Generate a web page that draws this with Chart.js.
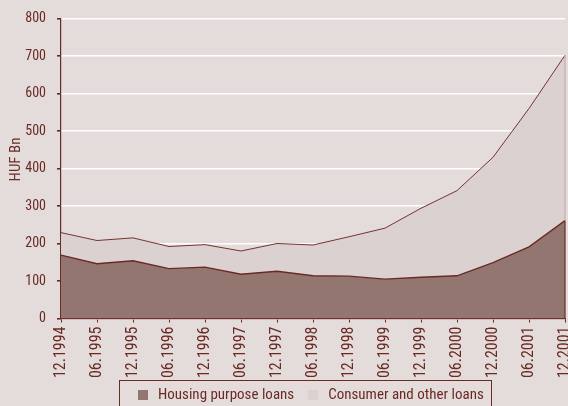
<!DOCTYPE html>
<html><head><meta charset="utf-8">
<script src="https://cdn.jsdelivr.net/npm/chart.js@4/dist/chart.umd.min.js"></script>
<style>
html,body{margin:0;padding:0;background:#e4dcdb;overflow:hidden;}
#wrap{width:568px;height:406px;position:relative;}
</style>
</head><body>
<div id="wrap"><canvas id="c" width="568" height="406"></canvas></div>
<script>
const categories = ['12.1994','06.1995','12.1995','06.1996','12.1996','06.1997','12.1997','06.1998','12.1998','06.1999','12.1999','06.2000','12.2000','06.2001','12.2001'];
const housingLoans = [169,146,154,133,137,118,126,114,113,105,110,114,149,191,261];
const consumerLoans = [60,62,61,59,60,62,74,82,105,136,184,227,281,369,441];
const seriesNames = ['Housing purpose loans','Consumer and other loans'];
const yAxisTitle = 'HUF Bn';
const yMin = 0, yMax = 800, yStep = 100;

const FONT = "'Liberation Sans Narrow','Arial Narrow','Roboto Condensed',sans-serif";
const DARK = '#6a2a24';
const BG = '#e4dcdb';
const HOUSING_FILL = '#937670';
const CONSUMER_FILL = '#dbd1d1';

const bgPlugin = {
  id: 'bg',
  beforeDraw(chart) {
    const ctx = chart.ctx;
    ctx.save();
    ctx.fillStyle = BG;
    ctx.fillRect(0, 0, chart.width, chart.height);
    ctx.restore();
  }
};

const edgePlugin = {
  id: 'edge',
  afterDatasetsDraw(chart) {
    const ctx = chart.ctx;
    const m0 = chart.getDatasetMeta(0).data;
    const m1 = chart.getDatasetMeta(1).data;
    const p0 = m0[m0.length - 1], p1 = m1[m1.length - 1];
    const y0 = chart.scales.y.getPixelForValue(0);
    ctx.save();
    ctx.lineWidth = 1.2;
    ctx.strokeStyle = '#c4aeac';
    ctx.beginPath(); ctx.moveTo(p1.x, p1.y); ctx.lineTo(p1.x, p0.y); ctx.stroke();
    ctx.strokeStyle = DARK;
    ctx.beginPath(); ctx.moveTo(p0.x, p0.y); ctx.lineTo(p0.x, y0); ctx.stroke();
    ctx.restore();
  }
};

const labelsPlugin = {
  id: 'labels',
  afterDraw(chart) {
    const ctx = chart.ctx;
    ctx.save();
    // y axis title
    ctx.fillStyle = DARK;
    ctx.font = '15px ' + FONT;
    ctx.textAlign = 'center';
    ctx.textBaseline = 'middle';
    ctx.translate(16.5, 159.5);
    ctx.rotate(-Math.PI / 2);
    ctx.fillText(yAxisTitle, 0, 0);
    ctx.restore();

    // legend
    ctx.save();
    ctx.strokeStyle = DARK;
    ctx.lineWidth = 1;
    ctx.strokeRect(119.5, 380.5, 372, 40);
    ctx.font = '15px ' + FONT;
    ctx.textBaseline = 'middle';
    ctx.textAlign = 'left';
    let x = 138;
    const cy = 395;
    chart.data.datasets.forEach((ds) => {
      ctx.fillStyle = ds.backgroundColor;
      ctx.fillRect(x, cy - 5, 10, 10);
      x += 20;
      ctx.fillStyle = DARK;
      ctx.fillText(ds.label, x, cy + 0.5);
      x += ctx.measureText(ds.label).width + 14;
    });
    ctx.restore();
  }
};

new Chart(document.getElementById('c'), {
  type: 'line',
  data: {
    labels: categories,
    datasets: [
      {
        label: seriesNames[0],
        data: housingLoans,
        backgroundColor: HOUSING_FILL,
        borderColor: DARK,
        borderWidth: 1.3,
        fill: 'origin',
        pointRadius: 0,
        tension: 0
      },
      {
        label: seriesNames[1],
        data: consumerLoans,
        backgroundColor: CONSUMER_FILL,
        borderColor: '#74342e',
        borderWidth: 1,
        fill: '-1',
        pointRadius: 0,
        tension: 0
      }
    ]
  },
  options: {
    responsive: false,
    animation: false,
    devicePixelRatio: 1,
    layout: { padding: { top: 18.5, right: 3, bottom: 28, left: 0 } },
    plugins: {
      legend: { display: false },
      title: { display: false },
      tooltip: { enabled: false }
    },
    scales: {
      x: {
        type: 'category',
        offset: false,
        grid: { display: true, drawOnChartArea: false, drawTicks: true, tickLength: 4, color: DARK, lineWidth: 1 },
        border: { display: true, color: DARK, width: 1.2 },
        ticks: {
          autoSkip: false, maxRotation: 90, minRotation: 90, padding: 4,
          color: DARK, font: { family: FONT, size: 16 }
        },
        afterFit(s) { s.height = 59.5; s.paddingLeft = 0; s.paddingRight = 0; }
      },
      y: {
        stacked: true,
        min: yMin, max: yMax,
        grid: { color: '#ffffff', lineWidth: 1.6, tickColor: DARK, tickLength: 4, drawTicks: true },
        border: { display: true, color: DARK, width: 1.2 },
        ticks: {
          stepSize: yStep, padding: 11, color: DARK,
          font: { family: FONT, size: 14 }
        },
        afterFit(s) { s.width = 61; s.paddingTop = 0; s.paddingBottom = 0; }
      }
    }
  },
  plugins: [bgPlugin, edgePlugin, labelsPlugin]
});
</script>
</body></html>
